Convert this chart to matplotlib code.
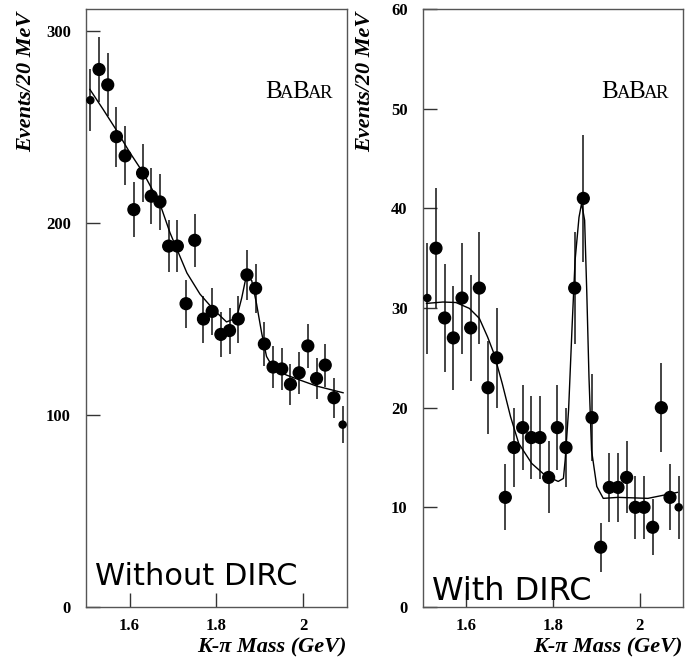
#!/usr/bin/env python3
"""
K-pi 不变质量谱 (Without DIRC / With DIRC) 复现
"""

import numpy as np
import matplotlib
matplotlib.use('Agg')
import matplotlib.pyplot as plt
from matplotlib.transforms import offset_copy

# 每 20 MeV 一个 bin 的中心
mass = [1.51, 1.53, 1.55, 1.57, 1.59, 1.61, 1.63, 1.65, 1.67, 1.69,
        1.71, 1.73, 1.75, 1.77, 1.79, 1.81, 1.83, 1.85, 1.87, 1.89,
        1.91, 1.93, 1.95, 1.97, 1.99, 2.01, 2.03, 2.05, 2.07, 2.09]

# 左图: 不使用 DIRC
counts_no_dirc = [264, 280, 272, 245, 235, 207, 226, 214, 211, 188,
                  188, 158, 191, 150, 154, 142, 144, 150, 173, 166,
                  137, 125, 124, 116, 122, 136, 119, 126, 109, 95]

# 右图: 使用 DIRC
counts_dirc = [31, 36, 29, 27, 31, 28, 32, 22, 25, 11,
               16, 18, 17, 17, 13, 18, 16, 32, 41, 19,
               6, 12, 12, 13, 10, 10, 8, 20, 11, 10]

# 拟合曲线
fit_x_no_dirc = [1.509, 1.540, 1.571, 1.600, 1.632, 1.670, 1.693, 1.732, 1.762,
                 1.793, 1.823, 1.846, 1.858, 1.869, 1.881, 1.892, 1.904, 1.915,
                 1.931, 1.961, 1.992, 2.030, 2.091]
fit_y_no_dirc = [269.6, 259, 248, 237, 226, 210, 195, 174, 163,
                 155, 148.5, 150.5, 161, 173, 170, 158, 142.5, 130.5,
                 124.3, 120.8, 118.2, 115.1, 111.6]

fit_x_dirc = [1.508, 1.546, 1.576, 1.607, 1.630, 1.649, 1.664, 1.683, 1.702,
              1.721, 1.751, 1.782, 1.812, 1.824, 1.828, 1.836, 1.844, 1.851,
              1.860, 1.866, 1.873, 1.878, 1.883, 1.889, 1.901, 1.916, 1.950,
              2.019, 2.087]
fit_y_dirc = [30.46, 30.6, 30.55, 29.96, 28.96, 27.1, 25.4, 22.4, 19.1,
              16.4, 14.4, 13.2, 12.6, 12.9, 14.7, 19.8, 28.1, 34.8,
              39.1, 40.5, 38.8, 31.5, 23.1, 15.7, 12.1, 10.9, 11.0,
              10.9, 11.5]

SERIF = 'Liberation Serif'


def draw_babar(fig, ax, x, y):
    """BABAR 标志: 大写 B + 小号 A / R"""
    pieces = [("B", 18), ("A", 13.5), ("B", 18), ("A", 13.5), ("R", 13.5)]
    renderer = fig.canvas.get_renderer()
    dx = 0.0
    for ch, size in pieces:
        trans = offset_copy(ax.transAxes, fig=fig, x=dx, y=0, units='dots')
        t = ax.text(x, y, ch, transform=trans, fontsize=size,
                    family=SERIF, ha='left', va='baseline', color='black')
        w = t.get_window_extent(renderer).width
        dx += w - 1.5


def draw_panel(fig, ax, counts, fit_x, fit_y, ylim, yticks, label, label_pos, label_size):
    x = np.array(mass)
    y = np.array(counts, dtype=float)
    err = np.sqrt(y)

    ax.errorbar(x, y, yerr=err, fmt='none', ecolor='#111111', elinewidth=1.1,
                capsize=0, zorder=2)
    sizes = np.full(len(x), 72.0)
    sizes[0] = 26.0
    sizes[-1] = 26.0
    ax.scatter(x, y, s=sizes, color='black', zorder=3, clip_on=False)
    ax.plot(fit_x, fit_y, color='black', linewidth=1.0, zorder=4)

    ax.set_xlim(1.5, 2.1)
    ax.set_ylim(*ylim)
    tick_font = dict(fontfamily=SERIF, fontweight='bold', fontsize=12)
    ax.set_xticks([1.6, 1.8, 2.0])
    ax.set_xticklabels(['1.6', '1.8', '2'], **tick_font)
    ax.set_yticks(yticks)
    ax.set_yticklabels([str(v) for v in yticks], **tick_font)
    ax.tick_params(direction='in', length=10, width=1, color='#333333', pad=8)
    ax.tick_params(axis='y', pad=11)
    for sp in ax.spines.values():
        sp.set_color('#555555')
        sp.set_linewidth(1.0)

    ax.text(label_pos[0], label_pos[1], label, transform=ax.transAxes,
            fontsize=label_size, family='DejaVu Sans', ha='left', va='baseline')
    draw_babar(fig, ax, 0.686, 0.851)


def main():
    fig = plt.figure(figsize=(6.85, 6.64), dpi=100)
    ax1 = fig.add_axes([86 / 685, 57 / 664, 261 / 685, 598 / 664])
    ax2 = fig.add_axes([423 / 685, 57 / 664, 260 / 685, 598 / 664])

    draw_panel(fig, ax1, counts_no_dirc, fit_x_no_dirc, fit_y_no_dirc,
               (0, 311.5), [0, 100, 200, 300], 'Without DIRC', (0.034, 0.037), 22)
    draw_panel(fig, ax2, counts_dirc, fit_x_dirc, fit_y_dirc,
               (0, 60), [0, 10, 20, 30, 40, 50, 60], 'With DIRC', (0.035, 0.012), 23)

    # 轴标题
    for xc in (26, 365):
        fig.text(xc / 685, 1 - 12 / 664, 'Events/20 MeV', rotation=90,
                 ha='center', va='top', fontsize=16, family=SERIF,
                 fontweight='bold', style='italic')
    for xr in (347, 683):
        fig.text(xr / 685, 1 - 652 / 664, 'K-\u03c0 Mass (GeV)', ha='right',
                 va='baseline', fontsize=16, family=SERIF,
                 fontweight='bold', style='italic')

    fig.savefig('out.png', dpi=100, facecolor='white')
    plt.close(fig)


if __name__ == "__main__":
    main()
